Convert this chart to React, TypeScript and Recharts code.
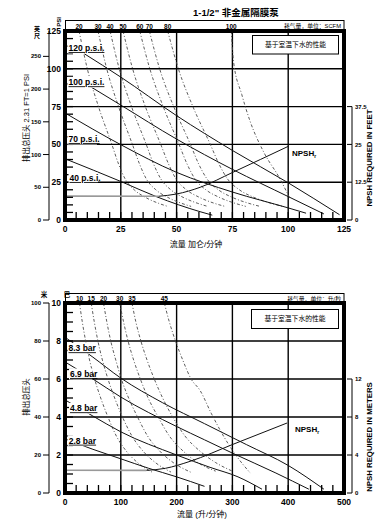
import React from 'react';
import { ComposedChart, Line, XAxis, YAxis, ReferenceLine } from 'recharts';

type Pt = [number, number];

const NARROW = '"Liberation Sans Narrow", "Liberation Sans", Arial, sans-serif';
const CJK = '"Liberation Sans", "Noto Sans CJK SC", sans-serif';

// ---------- 上图：加仑/分钟 vs PSI ----------
const gpmMinor = [0, 5, 10, 15, 20, 25, 30, 35, 40, 45, 50, 55, 60, 65, 70, 75, 80, 85, 90, 95, 100, 105, 110, 115, 120, 125];
const gpmMajor = [0, 25, 50, 75, 100, 125];
const psiMinor = [0, 5, 10, 15, 20, 25, 30, 35, 40, 45, 50, 55, 60, 65, 70, 75, 80, 85, 90, 95, 100, 105, 110, 115, 120, 125];
const psiMajor = [0, 25, 50, 75, 100, 125];
const feetTicks = [0, 50, 100, 150, 200, 250];
const npshFtTicks = [0, 12.5, 25, 37.5];
const gpmGrid = [25, 50, 75, 100];
const psiGrid = [25, 50, 75, 100];

const psi120: Pt[] = [[8.6, 110], [25, 94.5], [50, 69], [75, 46], [100, 24.6], [123, 3.5]];
const psi100: Pt[] = [[11.2, 88.4], [25, 76], [50, 53.5], [75, 33.5], [100, 15.5], [116, 4]];
const psi70: Pt[] = [[0, 70.8], [25, 49.8], [50, 31.5], [75, 18.5], [100, 8], [108, 4.5]];
const psi40: Pt[] = [[0, 40.5], [25.3, 25.3], [41, 15.4], [60.5, 5.5], [66, 3.2]];

const scfmLabels = ['20', '30', '40', '50', '60', '70', '80', '100'];
const scfm20: Pt[] = [[6.3, 125], [10, 100], [15, 75], [21, 50], [24, 37], [27, 27], [31, 20], [36, 15], [42, 11], [46, 9]];
const scfm30: Pt[] = [[14.8, 125], [18.7, 100], [24, 75], [30.2, 50], [33.4, 37], [36.5, 27], [40.7, 20], [46, 15], [52.3, 11], [56.5, 9]];
const scfm40: Pt[] = [[20.2, 125], [24.3, 100], [29.8, 75], [36.4, 50], [39.7, 37], [43, 27], [47.4, 20], [52.9, 15], [59.5, 11], [63.9, 9]];
const scfm50: Pt[] = [[26, 125], [30.3, 100], [36, 75], [42.9, 50], [46.4, 37], [49.8, 27], [54.4, 20], [60.2, 15], [67, 11], [71.7, 9]];
const scfm60: Pt[] = [[33.5, 125], [38, 100], [44, 75], [51.1, 50], [54.7, 37], [58.3, 27], [63.1, 20], [69.1, 15], [76.3, 11], [81, 9]];
const scfm70: Pt[] = [[37.8, 125], [42.4, 100], [48.7, 75], [56.2, 50], [59.9, 37], [63.7, 27], [68.7, 20], [74.9, 15], [82.4, 11], [87.4, 9]];
const scfm80: Pt[] = [[46, 125], [50.8, 100], [57.3, 75], [65.1, 50], [69, 37], [72.9, 27], [78.1, 20], [84.6, 15], [92.4, 11], [97.6, 9]];
const scfm100: Pt[] = [[74.5, 125], [75.5, 105], [79.2, 83], [83, 65], [89, 45], [96.4, 27], [100.5, 15]];

const npshFtFlat: Pt[] = [[0, 7.9], [42, 7.85]];
const npshFtRise: Pt[] = [[42, 7.85], [50, 8.6], [60.5, 10.8], [75, 15.7], [100, 24.35]];

// ---------- 下图：升/分钟 vs 巴 ----------
const lpmMinor = [0, 20, 40, 60, 80, 100, 120, 140, 160, 180, 200, 220, 240, 260, 280, 300, 320, 340, 360, 380, 400, 420, 440, 460, 480, 500];
const lpmMajor = [0, 100, 200, 300, 400, 500];
const barMinor = [0, 0.5, 1, 1.5, 2, 2.5, 3, 3.5, 4, 4.5, 5, 5.5, 6, 6.5, 7, 7.5, 8, 8.5, 9, 9.5, 10];
const barMajor = [0, 2, 4, 6, 8, 10];
const meterTicks = [0, 20, 40, 60, 80, 100];
const npshMTicks = [0, 4, 8, 12];
const lpmGrid = [100, 200, 300, 400];
const barGrid = [2, 4, 6, 8];

const bar83: Pt[] = [[0, 8.2], [50, 7.15], [100, 6.05], [175, 4.75], [250, 3.65], [325, 2.55], [400, 1.45], [464, 0.2]];
const bar69: Pt[] = [[0, 6.9], [50, 6.0], [100, 5.05], [200, 3.5], [250, 2.8], [300, 2.1], [378, 1.05], [437, 0.2]];
const bar48: Pt[] = [[0, 4.9], [50, 4.05], [100, 3.22], [200, 2.0], [260, 1.35], [310, 0.85], [353, 0.2]];
const bar28: Pt[] = [[0, 2.85], [50, 2.3], [100, 1.8], [150, 1.3], [200, 0.85], [250, 0.35]];

const lpsLabels = ['10', '15', '20', '30', '35', '45'];
const lps10: Pt[] = [[26, 10], [31, 9], [37, 8], [44, 7], [53, 6], [64, 5], [77, 4], [92, 3], [110, 2.2], [130, 1.6], [156, 1.1]];
const lps15: Pt[] = [[47, 10], [52.5, 9], [59, 8], [67, 7], [77, 6], [89, 5], [103, 4], [120, 3], [140, 2.2], [162, 1.6], [190, 1.1]];
const lps20: Pt[] = [[69, 10], [75, 9], [82, 8], [91, 7], [101, 6], [114, 5], [130, 4], [148, 3], [170, 2.2], [194, 1.6], [225, 1.1]];
const lps30: Pt[] = [[98, 10], [105, 9], [113, 8], [123, 7], [135, 6], [149, 5], [167, 4], [187, 3], [212, 2.2], [238, 1.6], [270, 1.15]];
const lps35: Pt[] = [[120, 10], [127, 9], [136, 8], [147, 7], [160, 6], [175, 5], [193, 4], [215, 3], [242, 2.2], [270, 1.6], [300, 1.15]];
const lps45: Pt[] = [[178, 10], [187, 9], [198, 8], [211, 7], [226, 6], [242, 5.4], [262, 4.2], [284, 3], [306, 2], [332, 1.05]];

const npshMFlat: Pt[] = [[0, 2.4], [146, 2.38]];
const npshMRise: Pt[] = [[146, 2.38], [180, 2.6], [224, 3.33], [300, 5.1], [398, 7.37]];

// ---------------------------------------------
const rows = (p: Pt[]) => p.map(([x, y]) => ({ x, y }));
const BORDER = { stroke: '#000', strokeWidth: 4, strokeLinecap: 'square' as const };

interface PanelCfg {
  height: number;
  xDomain: [number, number];
  xMinor: number[];
  xMajor: number[];
  yDomain: [number, number];
  yMinor: number[];
  yMajor: number[];
  outerDomain: [number, number];
  outerTicks: number[];
  npshDomain: [number, number];
  npshTicks: number[];
  gridX: number[];
  gridY: number[];
  pressure: Pt[][];
  air: Pt[][];
  airLabels: string[];
  npshFlat: Pt[];
  npshRise: Pt[];
}

// 轴 id 按字母顺序由内向外排列：L1 内侧压力轴，L2 外侧扬程轴；R1 右边框，R2 NPSH 轴
function Panel(c: PanelCfg) {
  const plotH = c.height - 20 - 11 - 16;
  const npshStep = (plotH * (c.npshTicks[1] - c.npshTicks[0])) / (c.npshDomain[1] - c.npshDomain[0]);
  const npshLast = c.npshTicks[c.npshTicks.length - 1];
  const airTop = c.air.map((a) => a[0][0]);

  const flowTick = (p: any) => {
    const axisY = p.y - 4;
    const v = p.payload.value;
    return (
      <g>
        <line x1={p.x} x2={p.x} y1={axisY} y2={axisY - 8} stroke="#000" strokeWidth={1.3} />
        {c.xMajor.includes(v) && (
          <text x={p.x} y={axisY + 12} textAnchor="middle" fontSize={8.5} fontWeight="bold" fontFamily={NARROW}>
            {v}
          </text>
        )}
      </g>
    );
  };

  const pressTick = (p: any) => {
    const axisX = p.x + 3;
    const v = p.payload.value;
    return (
      <g>
        <line x1={axisX} x2={axisX + 8} y1={p.y} y2={p.y} stroke="#000" strokeWidth={1.3} />
        {c.yMajor.includes(v) && (
          <text x={p.x - 1} y={p.y} dy="0.35em" textAnchor="end" fontSize={8.5} fontWeight="bold" fontFamily={NARROW}>
            {v}
          </text>
        )}
      </g>
    );
  };

  const npshTick = (p: any) => {
    const axisX = p.x - 3;
    const v = p.payload.value;
    return (
      <g>
        <line x1={axisX - 5} x2={axisX} y1={p.y} y2={p.y} stroke="#000" strokeWidth={1} />
        {v < npshLast && <line x1={axisX} x2={axisX} y1={p.y} y2={p.y - npshStep} stroke="#000" strokeWidth={1} />}
        <text x={p.x} y={p.y} dy="0.35em" fontSize={6} fontWeight="bold" fontFamily={NARROW}>
          {v}
        </text>
      </g>
    );
  };

  return (
    <ComposedChart width={392} height={c.height} margin={{ top: 20, right: 0, bottom: 0, left: 0 }}>
      <XAxis
        xAxisId="flow"
        dataKey="x"
        type="number"
        domain={c.xDomain}
        allowDataOverflow
        ticks={c.xMinor}
        interval={0}
        height={16}
        tickSize={0}
        tickMargin={4}
        tickLine={false}
        axisLine={BORDER}
        tick={flowTick}
      />
      <XAxis
        xAxisId="air"
        orientation="top"
        dataKey="x"
        type="number"
        domain={c.xDomain}
        allowDataOverflow
        ticks={airTop}
        interval={0}
        height={11}
        tickSize={0}
        tickMargin={2}
        tickLine={false}
        axisLine={BORDER}
        tickFormatter={(_v: number, i: number) => c.airLabels[i]}
        tick={{ fontSize: 6.5, fontWeight: 'bold', fill: '#000', fontFamily: NARROW }}
      />
      <YAxis
        yAxisId="L1"
        type="number"
        domain={c.yDomain}
        allowDataOverflow
        ticks={c.yMinor}
        interval={0}
        width={16}
        tickSize={0}
        tickMargin={3}
        tickLine={false}
        axisLine={BORDER}
        tick={pressTick}
      />
      <YAxis
        yAxisId="L2"
        type="number"
        domain={c.outerDomain}
        allowDataOverflow
        ticks={c.outerTicks}
        interval={0}
        width={49}
        tickSize={6}
        tickMargin={2}
        tickLine={{ stroke: '#000', strokeWidth: 1 }}
        axisLine={{ stroke: '#000', strokeWidth: 1 }}
        tick={{ fontSize: 6, fontWeight: 'bold', fill: '#000', fontFamily: NARROW }}
      />
      <YAxis
        yAxisId="R1"
        orientation="right"
        type="number"
        domain={c.yDomain}
        allowDataOverflow
        width={8}
        tick={false}
        tickLine={false}
        axisLine={BORDER}
      />
      <YAxis
        yAxisId="R2"
        orientation="right"
        type="number"
        domain={c.npshDomain}
        allowDataOverflow
        ticks={c.npshTicks}
        interval={0}
        width={40}
        tickSize={0}
        tickMargin={3}
        tickLine={false}
        axisLine={false}
        tick={npshTick}
      />

      {c.gridX.map((v) => (
        <ReferenceLine key={'gx' + v} xAxisId="flow" yAxisId="L1" x={v} stroke="#000" strokeWidth={1.4} />
      ))}
      {c.gridY.map((v) => (
        <ReferenceLine key={'gy' + v} xAxisId="flow" yAxisId="L1" y={v} stroke="#000" strokeWidth={1.4} />
      ))}

      {c.air.map((a, i) => (
        <Line
          key={'air' + i}
          xAxisId="air"
          yAxisId="L1"
          data={rows(a)}
          dataKey="y"
          type="monotone"
          stroke="#4a4a4a"
          strokeWidth={0.9}
          strokeDasharray="3 2 1 2"
          dot={false}
          isAnimationActive={false}
        />
      ))}
      {c.pressure.map((a, i) => (
        <Line
          key={'p' + i}
          xAxisId="flow"
          yAxisId="L1"
          data={rows(a)}
          dataKey="y"
          type="monotone"
          stroke="#111"
          strokeWidth={1}
          dot={false}
          isAnimationActive={false}
        />
      ))}
      <Line
        xAxisId="flow"
        yAxisId="R2"
        data={rows(c.npshFlat)}
        dataKey="y"
        type="linear"
        stroke="#999"
        strokeWidth={1.6}
        dot={false}
        isAnimationActive={false}
      />
      <Line
        xAxisId="flow"
        yAxisId="R2"
        data={rows(c.npshRise)}
        dataKey="y"
        type="monotone"
        stroke="#111"
        strokeWidth={1}
        dot={false}
        isAnimationActive={false}
      />
    </ComposedChart>
  );
}

function Tag({ x, y, text }: { x: number; y: number; text: string }) {
  const w = text.length * 3.05;
  return (
    <g>
      <rect x={x - 1} y={y - 5.5} width={w + 2} height={11} fill="#fff" />
      <text x={x} y={y} dy="0.35em" fontSize={8.5} fontWeight="bold" fontFamily={NARROW} textDecoration="underline">
        {text}
      </text>
    </g>
  );
}

export default function App() {
  return (
    <div style={{ position: 'absolute', left: 0, top: 0, width: 392, height: 530, background: '#fff' }}>
      <div style={{ position: 'absolute', left: 0, top: 0 }}>
        <Panel
          height={236}
          xDomain={[0, 125]}
          xMinor={gpmMinor}
          xMajor={gpmMajor}
          yDomain={[0, 125]}
          yMinor={psiMinor}
          yMajor={psiMajor}
          outerDomain={[0, 288.75]}
          outerTicks={feetTicks}
          npshDomain={[0, 62.5]}
          npshTicks={npshFtTicks}
          gridX={gpmGrid}
          gridY={psiGrid}
          pressure={[psi120, psi100, psi70, psi40]}
          air={[scfm20, scfm30, scfm40, scfm50, scfm60, scfm70, scfm80, scfm100]}
          airLabels={scfmLabels}
          npshFlat={npshFtFlat}
          npshRise={npshFtRise}
        />
      </div>
      <div style={{ position: 'absolute', left: 0, top: 272 }}>
        <Panel
          height={237}
          xDomain={[0, 500]}
          xMinor={lpmMinor}
          xMajor={lpmMajor}
          yDomain={[0, 10]}
          yMinor={barMinor}
          yMajor={barMajor}
          outerDomain={[0, 100]}
          outerTicks={meterTicks}
          npshDomain={[0, 20]}
          npshTicks={npshMTicks}
          gridX={lpmGrid}
          gridY={barGrid}
          pressure={[bar83, bar69, bar48, bar28]}
          air={[lps10, lps15, lps20, lps30, lps35, lps45]}
          airLabels={lpsLabels}
          npshFlat={npshMFlat}
          npshRise={npshMRise}
        />
      </div>
      <svg width={392} height={530} style={{ position: 'absolute', left: 0, top: 0, pointerEvents: 'none' }}>
        {/* 上图注释 */}
        <text x={193} y={15.5} fontSize={9.5} fontWeight="bold" fontFamily={CJK}>
          1-1/2" 非金属隔膜泵
        </text>
        <rect x={65.5} y={20.5} width={278.5} height={10.5} fill="none" stroke="#000" strokeWidth={1} />
        <text transform="translate(59,22) rotate(-90)" textAnchor="middle" dy="0.35em" fontSize={6} fontWeight="bold" fontFamily={NARROW}>
          PSI
        </text>
        <text x={341} y={28} textAnchor="end" fontSize={5.8} fontFamily={CJK}>
          耗气量，单位：SCFM
        </text>
        <text x={37} y={31} textAnchor="middle" fontSize={6} fontWeight="bold" fontFamily={CJK}>英</text>
        <text x={37} y={38} textAnchor="middle" fontSize={6} fontWeight="bold" fontFamily={CJK}>尺</text>
        <text transform="translate(26,118) rotate(-90)" textAnchor="middle" dy="0.35em" fontSize={7.5} fontFamily={CJK}>
          排出总压头 2.31 FT=1 PSI
        </text>
        <Tag x={68.5} y={48} text="120 p.s.i." />
        <Tag x={68.5} y={82.3} text="100 p.s.i." />
        <Tag x={68.5} y={139} text="70 p.s.i." />
        <Tag x={69.5} y={178} text="40 p.s.i." />
        <rect x={252.5} y={35.5} width={86} height={18.5} fill="#fff" stroke="#000" strokeWidth={1} />
        <text x={295.5} y={44.8} dy="0.35em" textAnchor="middle" fontSize={6.8} fontFamily={CJK}>
          基于室温下水的性能
        </text>
        <text x={292} y={156} fontSize={8} fontWeight="bold" fontFamily={NARROW}>
          NPSH<tspan fontSize={5} dy={2}>r</tspan>
        </text>
        <text x={196} y={247} textAnchor="middle" fontSize={8} fontFamily={CJK}>
          流量 加仑/分钟
        </text>
        <text transform="translate(369,158) rotate(-90)" textAnchor="middle" dy="0.35em" fontSize={7.8} fontWeight="bold" fontFamily={NARROW}>
          NPSH REQUIRED IN FEET
        </text>

        {/* 下图注释 */}
        <rect x={65.5} y={293.5} width={278.5} height={10} fill="none" stroke="#000" strokeWidth={1} />
        <text x={341} y={301} textAnchor="end" fontSize={5.8} fontFamily={CJK}>
          耗气量，单位：升/秒
        </text>
        <text x={44} y={297} textAnchor="middle" fontSize={6.5} fontWeight="bold" fontFamily={CJK}>米</text>
        <text x={67} y={297} textAnchor="middle" fontSize={6.5} fontWeight="bold" fontFamily={CJK}>巴</text>
        <text transform="translate(26,397) rotate(-90)" textAnchor="middle" dy="0.35em" fontSize={7.5} fontFamily={CJK}>
          排出总压头
        </text>
        <Tag x={68.5} y={348.3} text="8.3 bar" />
        <Tag x={70} y={374} text="6.9 bar" />
        <Tag x={70} y={408.3} text="4.8 bar" />
        <Tag x={68.7} y={440.7} text="2.8 bar" />
        <rect x={251.5} y={309.5} width={87} height={19} fill="#fff" stroke="#000" strokeWidth={1} />
        <text x={295} y={319} dy="0.35em" textAnchor="middle" fontSize={6.8} fontFamily={CJK}>
          基于室温下水的性能
        </text>
        <text x={295} y={432} fontSize={8} fontWeight="bold" fontFamily={NARROW}>
          NPSH<tspan fontSize={5} dy={2}>r</tspan>
        </text>
        <text x={202} y={517} textAnchor="middle" fontSize={8} fontFamily={CJK}>
          流量 (升/分钟)
        </text>
        <text transform="translate(369,437) rotate(-90)" textAnchor="middle" dy="0.35em" fontSize={7.8} fontWeight="bold" fontFamily={NARROW}>
          NPSH REQUIRED IN METERS
        </text>
      </svg>
    </div>
  );
}
